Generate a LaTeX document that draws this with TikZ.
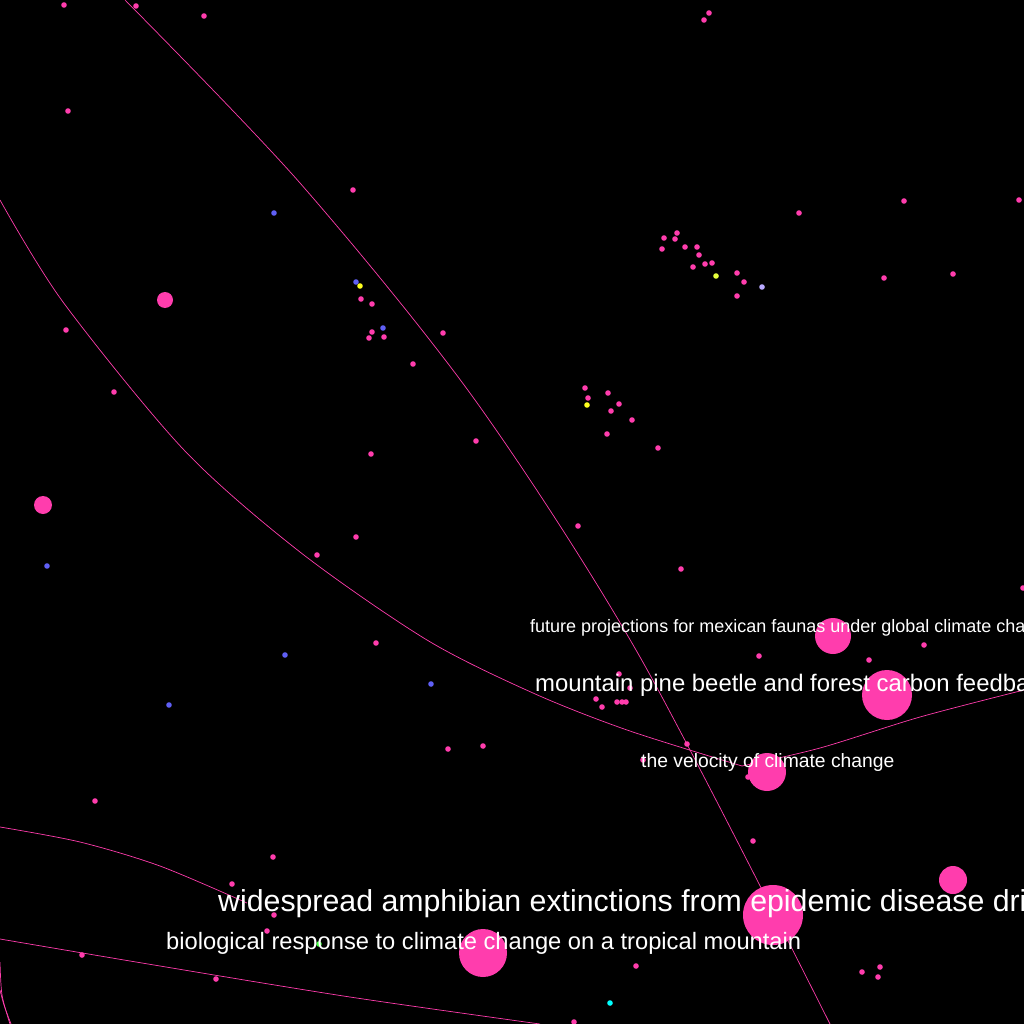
\documentclass[tikz,border=0pt]{standalone}
\usepackage{fontspec}
\setmainfont{Liberation Sans}
\definecolor{pk}{RGB}{255,61,173}
\definecolor{bl}{RGB}{95,95,245}
\definecolor{yl}{RGB}{255,255,30}
\definecolor{yg}{RGB}{230,255,60}
\definecolor{lv}{RGB}{185,170,255}
\definecolor{cy}{RGB}{0,255,255}
\definecolor{gr}{RGB}{60,255,60}
\tikzset{
  edge/.style={draw=pk,line width=0.7pt},
  lbl/.style={text=white,anchor=base west,inner sep=0pt},
}
\begin{document}
\begin{tikzpicture}[x=1pt,y=-1pt]
\fill[black] (0,0) rectangle (1024,1024);
\useasboundingbox (0,0) rectangle (1024,1024);
\clip (0,0) rectangle (1024,1024);
% connectors
\draw[edge] plot[smooth] coordinates {(125,0) (300,183) (475,400) (640,657) (830,1024)};
\draw[edge] plot[smooth] coordinates {(0,200) (63,302) (184,450) (300,552) (427,640) (533,693) (627,730) (742,766)};
\draw[edge] plot[smooth] coordinates {(742,766) (820,748) (920,717) (1024,690)};
\draw[edge] plot[smooth] coordinates {(0,827) (80,842) (160,866) (247,903)};
\draw[edge] plot[smooth] coordinates {(0,939) (160,966) (350,997) (540,1024)};
\draw[edge] plot[smooth] coordinates {(0,962) (2,995) (10,1024)};
\draw[edge] plot[smooth] coordinates {(0,990) (4,1005) (11,1024)};
% small pink dots
\foreach \x/\y in {64/5,136/6,204/16,68/111,709/13,704/20,799/213,904/201,1019/200,884/278,953/274,
353/190,361/299,372/304,372/332,369/338,384/337,443/333,413/364,
677/233,664/238,675/239,662/249,685/247,697/247,699/255,693/267,705/264,712/263,737/273,744/282,737/296,
585/388,588/398,608/393,619/404,611/411,632/420,607/434,658/448,
66/330,114/392,95/801,476/441,371/454,356/537,317/555,578/526,681/569,376/643,448/749,483/746,
619/674,630/688,596/699,602/707,617/702,622/702,626/702,687/744,643/760,748/777,
759/656,869/660,924/645,1023/588,862/972,880/967,878/977,753/841,636/966,
232/884,274/915,267/931,216/979,574/1022,82/955,273/857}
  \fill[pk] (\x,\y) circle (2.8);
% other coloured dots
\foreach \x/\y in {274/213,356/282,383/328,47/566,285/655,169/705,431/684}
  \fill[bl] (\x,\y) circle (2.8);
\fill[yl] (360,286) circle (2.8);
\fill[yl] (587,405) circle (2.8);
\fill[yg] (716,276) circle (2.8);
\fill[lv] (762,287) circle (2.8);
\fill[cy] (610,1003) circle (2.8);
\fill[gr] (319,944) circle (2.8);
% large circles
\fill[pk] (165,300) circle (8);
\fill[pk] (43,505) circle (9);
\fill[pk] (833,636) circle (18);
\fill[pk] (887,695) circle (25);
\fill[pk] (767,772) circle (19);
\fill[pk] (953,880) circle (14);
\fill[pk] (773,915) circle (30);
\fill[pk] (483,953) circle (24);
% labels
\node[lbl,font=\fontsize{18}{20}\selectfont] (t1) at (530,632) {future projections for mexican faunas under global climate change};
\node[lbl,font=\fontsize{23.9}{27}\selectfont] (t2) at (535,691) {mountain pine beetle and forest carbon feedback to climate change};
\node[lbl,font=\fontsize{19.3}{21}\selectfont] (t3) at (641,767) {the velocity of climate change};
\node[lbl,font=\fontsize{30.3}{33}\selectfont] (t4) at (218,911) {widespread amphibian extinctions from epidemic disease driven by global warming};
\node[lbl,font=\fontsize{23.7}{26}\selectfont] (t5) at (166,949) {biological response to climate change on a tropical mountain};
\end{tikzpicture}
\end{document}
